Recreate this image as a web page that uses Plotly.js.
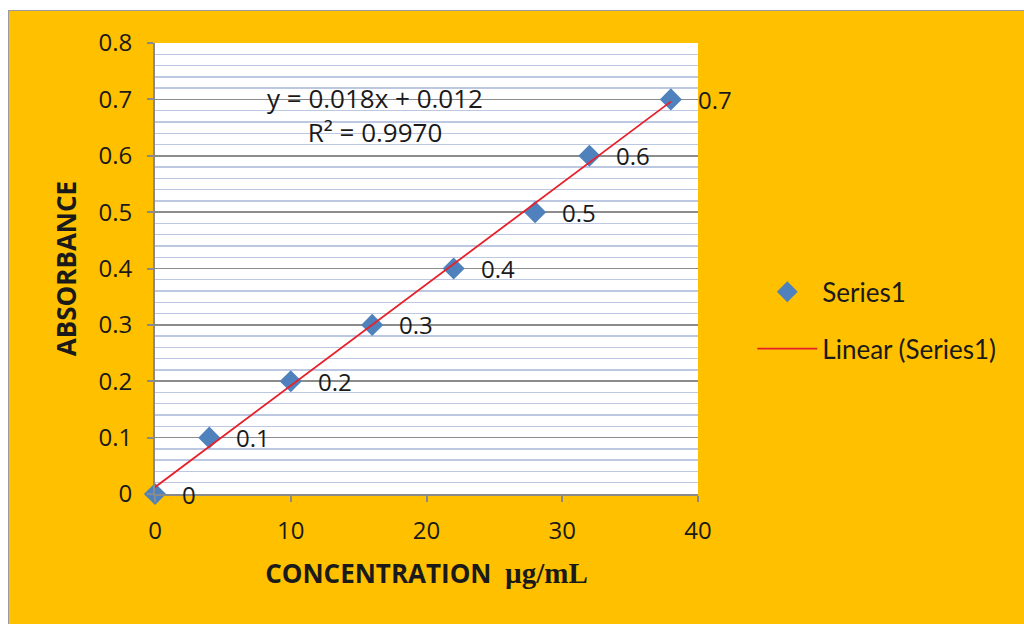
<!DOCTYPE html>
<html><head><meta charset="utf-8">
<script src="https://cdn.plot.ly/plotly-3.0.1.min.js"></script>
<style>
html,body{margin:0;padding:0;background:#ffffff;width:1024px;height:624px;overflow:hidden;}
#chart{position:absolute;left:8px;top:10px;width:1015px;height:614px;border-left:1px solid #9a9a9a;border-top:1px solid #9a9a9a;}
</style></head>
<body><div id="chart"></div>
<script>
var concentration = [0, 4, 10, 16, 22, 28, 32, 38];
var absorbance = [0, 0.1, 0.2, 0.3, 0.4, 0.5, 0.6, 0.7];
var pointLabels = ["0", "0.1", "0.2", "0.3", "0.4", "0.5", "0.6", "0.7"];
var trendX = [0, 38];
var trendY = [0.012, 0.696];
var equationText = "y = 0.018x + 0.012<br>R² = 0.9970";

var labelFont = {family: "Open Sans, Liberation Sans, sans-serif", size: 24, color: "#1a1a1a"};

var annotations = concentration.map(function(x, i){
  return {x: x, y: absorbance[i], xref: "x", yref: "y", text: pointLabels[i],
    showarrow: false, xanchor: "left", yanchor: "middle", xshift: 25, font: labelFont};
});
annotations.push({x: 16.2, y: 0.672, xref: "x", yref: "y", text: equationText,
  showarrow: false, xanchor: "center", yanchor: "middle", align: "center",
  font: {family: "Open Sans, Liberation Sans, sans-serif", size: 26, color: "#1a1a1a"}});

var traces = [
  {x: concentration, y: absorbance, type: "scatter", mode: "markers", name: "Series1",
   legendgroup: "a", cliponaxis: false,
   marker: {symbol: "diamond", size: 17, color: "#4F81BD"}},
  {x: trendX, y: trendY, type: "scatter", mode: "lines", name: "Linear (Series1)",
   legendgroup: "b", cliponaxis: false,
   line: {color: "#E8202A", width: 1.8}}
];

var layout = {
  width: 1015, height: 614,
  paper_bgcolor: "#FFC000", plot_bgcolor: "#FFFFFF",
  margin: {l: 146, r: 326, t: 32, b: 131, pad: 0},
  showlegend: true,
  legend: {x: 1.1, y: 0.385, xref: "paper", yref: "paper", xanchor: "left", yanchor: "middle",
    bgcolor: "rgba(0,0,0,0)", traceorder: "grouped", tracegroupgap: 20, itemwidth: 60,
    font: {family: "Lato, Noto Sans, sans-serif", size: 26, color: "#1a1a1a"}},
  xaxis: {range: [0, 40], dtick: 10, showgrid: false, zeroline: false,
    showline: true, linecolor: "#8a8a8a", linewidth: 2,
    ticks: "outside", ticklen: 6, tickcolor: "#8a8a8a", tickwidth: 2,
    ticklabelstandoff: 8,
    tickfont: labelFont,
    title: {text: "CONCENTRATION  <span style=\"font-family:'Liberation Serif',serif;font-size:29px\">µg/mL</span>",
      standoff: 20,
      font: {family: "Open Sans, Lato, sans-serif", size: 26, color: "#1a1a1a", weight: "bold"}}},
  yaxis: {range: [0, 0.8], dtick: 0.1, zeroline: false,
    showgrid: true, gridcolor: "#8c8c8c", gridwidth: 1.6,
    showline: true, linecolor: "#8a8a8a", linewidth: 2,
    ticks: "outside", ticklen: 6, tickcolor: "#8a8a8a", tickwidth: 2,
    ticklabelstandoff: 10,
    tickfont: labelFont,
    minor: {dtick: 0.02, showgrid: true, gridcolor: "#BCC8E2", gridwidth: 1.4, ticks: ""},
    title: {text: "ABSORBANCE", standoff: 14,
      font: {family: "Open Sans, Lato, sans-serif", size: 26, color: "#1a1a1a", weight: "bold"}}},
  annotations: annotations
};

Plotly.newPlot("chart", traces, layout, {displayModeBar: false, staticPlot: true});
</script>
</body></html>
